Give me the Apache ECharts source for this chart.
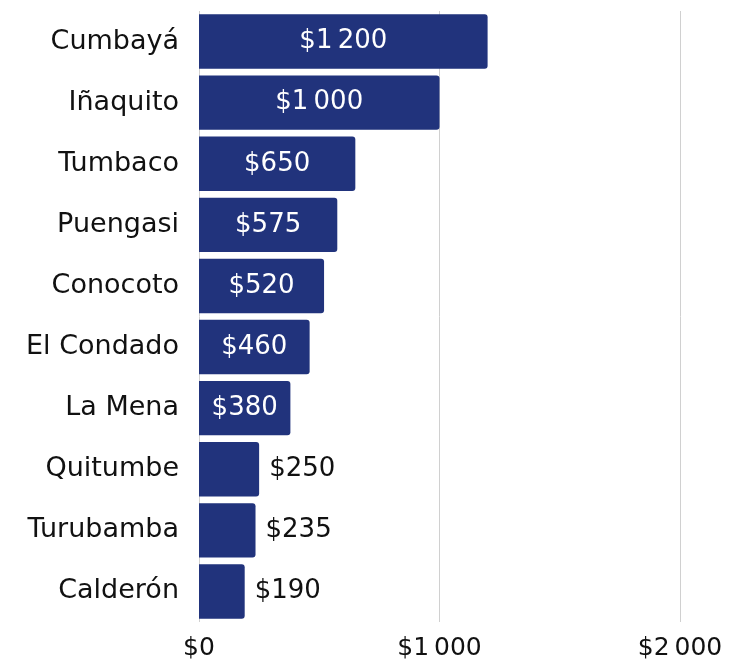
<!DOCTYPE html>
<html><head><meta charset="utf-8">
<script src="https://cdn.jsdelivr.net/npm/echarts@6/dist/echarts.min.js"></script>
<style>html,body{margin:0;padding:0;background:#fff}#c{width:744px;height:661px}</style>
</head><body><div id="c"></div>
<script>
const categories = ["Cumbayá","Iñaquito","Tumbaco","Puengasi","Conocoto","El Condado","La Mena","Quitumbe","Turubamba","Calderón"];
const values = [1200,1000,650,575,520,460,380,250,235,190];
const xTicks = [0,1000,2000];

function fmt(v){
  const s = String(Math.round(v));
  return '$' + s.replace(/\B(?=(\d{3})+(?!\d))/g, '\u2009');
}
const FONT = '"DejaVu Sans", sans-serif';
const chart = echarts.init(document.getElementById('c'));
chart.setOption({
  animation:false,
  grid:{left:199,right:64,top:11,bottom:39,containLabel:false},
  xAxis:{type:'value',min:0,max:2000,interval:1000,
    axisLine:{show:false},axisTick:{show:false},
    splitLine:{show:true,lineStyle:{color:'#d0d0d0',width:1}},
    axisLabel:{formatter:fmt,fontSize:25,color:'#111',fontFamily:FONT,margin:14}},
  yAxis:{type:'category',data:categories,inverse:true,
    axisLine:{show:false},axisTick:{show:false},
    axisLabel:{fontSize:27,color:'#111',fontFamily:FONT,margin:20}},
  series:[{type:'bar',barCategoryGap:'11%',
    data:values.map(v=>({value:v,label:v>=300?
      {show:true,position:'inside',color:'#fff'}:
      {show:true,position:'right',color:'#111',distance:10}})),
    itemStyle:{color:'#21337c',borderRadius:[0,3,3,0]},
    label:{show:true,formatter:p=>fmt(p.value),fontSize:26,fontFamily:FONT}
  }]
});
</script></body></html>
